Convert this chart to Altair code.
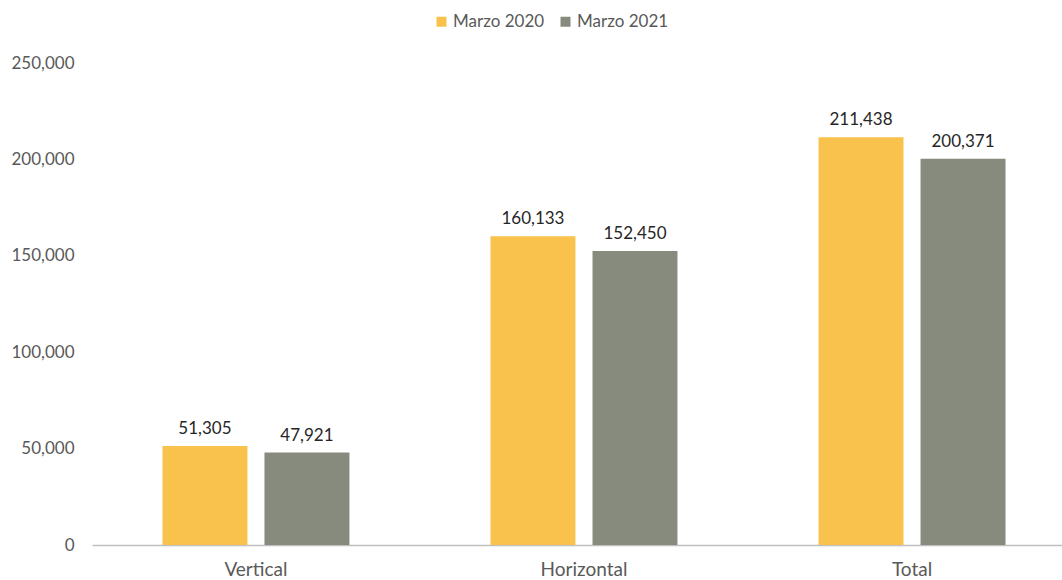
import altair as alt
import pandas as pd

categories = ["Vertical", "Horizontal", "Total"]
series_names = ["Marzo 2020", "Marzo 2021"]
values_2020 = [51305, 160133, 211438]
values_2021 = [47921, 152450, 200371]
y_ticks = [0, 50000, 100000, 150000, 200000, 250000]
colors = ["#F8C24C", "#878B7E"]

rows = []
for c, a, b in zip(categories, values_2020, values_2021):
    rows.append({"cat": c, "serie": series_names[0], "valor": a})
    rows.append({"cat": c, "serie": series_names[1], "valor": b})
df = pd.DataFrame(rows)

FONT = "Lato"

x_enc = alt.X(
    "cat:N", sort=categories, title=None,
    scale=alt.Scale(paddingInner=0.43, paddingOuter=0.1935, align=0.555),
    axis=alt.Axis(labelAngle=0, ticks=False, domainColor="#BFBFBF", domainWidth=1.5,
                  labelPadding=15, labelFontSize=19, labelColor="#595959", labelFont=FONT),
)
xo_enc = alt.XOffset("serie:N", sort=series_names,
                     scale=alt.Scale(paddingInner=0.167, paddingOuter=0))
y_enc = alt.Y(
    "valor:Q", title=None,
    scale=alt.Scale(domain=[0, 250000], nice=False, zero=True),
    axis=alt.Axis(values=y_ticks, format=",.0f", domain=False, ticks=False, grid=False,
                  labelPadding=18, labelFontSize=17, labelColor="#595959", labelFont=FONT),
)

base = alt.Chart(df).encode(x=x_enc, xOffset=xo_enc, y=y_enc)

bars = base.mark_bar().encode(
    color=alt.Color(
        "serie:N", sort=series_names, title=None,
        scale=alt.Scale(domain=series_names, range=colors),
        legend=alt.Legend(orient="none", legendX=341, legendY=-50, direction="horizontal",
                          symbolType="square", symbolSize=100, symbolStrokeWidth=0,
                          labelFontSize=17, labelColor="#595959", labelFont=FONT,
                          labelOffset=3, columnPadding=12),
    ),
)

labels = base.mark_text(
    baseline="alphabetic", dy=-12, fontSize=17, color="#262626", font=FONT
).encode(
    text=alt.Text("valor:Q", format=","),
)

chart = (
    (bars + labels)
    .properties(
        width=970, height=482,
        autosize=alt.AutoSizeParams(type="none"),
        padding={"left": 92, "top": 63, "right": 0, "bottom": 35},
        background="white",
    )
    .configure_view(stroke=None)
)

chart.save("out.html", embed_options={"renderer": "svg", "actions": False})
